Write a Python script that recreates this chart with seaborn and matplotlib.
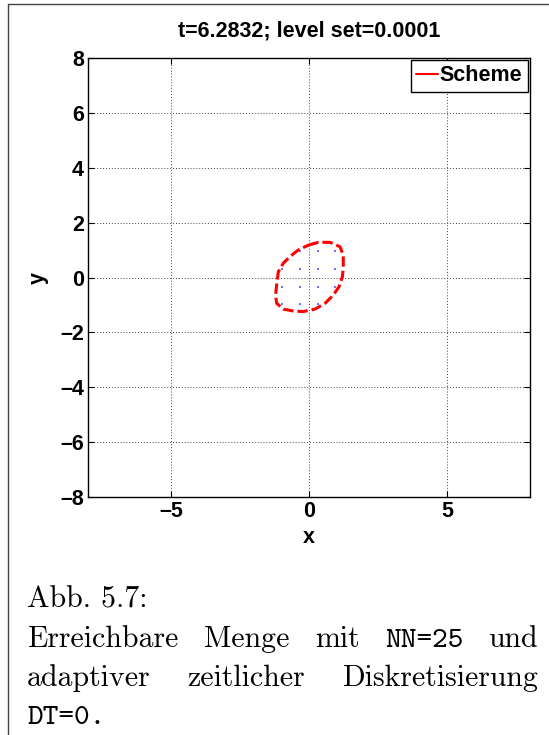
import matplotlib
matplotlib.use("Agg")
import matplotlib.pyplot as plt
from matplotlib.lines import Line2D
import numpy as np
import pandas as pd
import seaborn as sns

# ---- data -------------------------------------------------------------
# closed level-set contour of the reachable set (x, y)
contour_x = [-0.02, 0.34, 0.76, 1.12, 1.24, 1.24, 1.21, 1.09, 0.88, 0.58,
             0.22, -0.21, -0.57, -0.93, -1.17, -1.21, -1.17, -1.11, -0.93,
             -0.69, -0.39, -0.02]
contour_y = [1.18, 1.28, 1.28, 1.12, 0.82, 0.39, 0.03, -0.33, -0.64, -0.94,
             -1.15, -1.24, -1.22, -1.15, -0.94, -0.64, -0.27, 0.21, 0.52,
             0.76, 1.00, 1.18]

# grid points lying inside the set
point_x = [-0.33, 0.31, 0.95,
           -0.97, -0.33, 0.31, 0.95,
           -0.97, -0.33, 0.31, 0.95,
           -0.97, -0.33, 0.31]
point_y = [0.96, 0.96, 0.96,
           0.32, 0.32, 0.32, 0.32,
           -0.33, -0.33, -0.33, -0.33,
           -0.97, -0.97, -0.97]

x_ticks = [-5, 0, 5]
y_ticks = [-8, -6, -4, -2, 0, 2, 4, 6, 8]
title_text = "t=6.2832; level set=0.0001"
legend_label = "Scheme"

caption_lines = [
    [("Abb. 5.7:", "cmr10")],
    [("Erreichbare", "cmr10"), ("Menge", "cmr10"), ("mit", "cmr10"),
     ("NN=25", "cmtt10"), ("und", "cmr10")],
    [("adaptiver", "cmr10"), ("zeitlicher", "cmr10"),
     ("Diskretisierung", "cmr10")],
    [("DT=0.", "cmtt10")],
]

# ---- style ------------------------------------------------------------
sns.set_theme(style="white")
plt.rcParams["font.family"] = ["Liberation Sans", "DejaVu Sans"]
plt.rcParams["font.weight"] = "bold"
plt.rcParams["axes.unicode_minus"] = True
plt.rcParams["text.color"] = "black"
plt.rcParams["axes.labelcolor"] = "black"
plt.rcParams["xtick.color"] = "black"
plt.rcParams["ytick.color"] = "black"

W, H = 549, 735
fig = plt.figure(figsize=(W / 100, H / 100), dpi=100)
ax = fig.add_axes([88 / W, 1 - 497.3 / H, 442 / W, 439.6 / H])

df_c = pd.DataFrame({"x": contour_x, "y": contour_y, "s": legend_label})
df_p = pd.DataFrame({"x": point_x, "y": point_y})

sns.scatterplot(data=df_p, x="x", y="y", ax=ax, color="#6f6fff", s=4,
                marker="s", linewidth=0, legend=False, zorder=2)
sns.lineplot(data=df_c, x="x", y="y", ax=ax, sort=False, estimator=None,
             color="#ff0000", linewidth=2.2, legend=False, zorder=3)
ax.lines[-1].set_dashes((3.4, 1.3))

ax.set_xlim(-8, 8)
ax.set_ylim(-8, 8)
ax.set_xticks(x_ticks)
ax.set_yticks(y_ticks)
ax.set_xticklabels([f"{v}".replace("-", "\u2013") for v in x_ticks])
ax.set_yticklabels([f"{v}".replace("-", "\u2013") for v in y_ticks])
ax.grid(True, color="#444444", linestyle=(0, (1, 2)), linewidth=0.7)
ax.tick_params(axis="both", labelsize=15.5, length=4, direction="in",
               width=0.8, pad=3, top=True, right=True, bottom=True, left=True,
               colors="black")
for lab in ax.get_xticklabels() + ax.get_yticklabels():
    lab.set_fontweight("bold")
for sp in ax.spines.values():
    sp.set_color("black")
    sp.set_linewidth(1.0)

ax.set_xlabel("x", fontsize=15.5, fontweight="bold", labelpad=3,
              color="black")
ax.set_ylabel("y", fontsize=15.5, fontweight="bold", labelpad=8,
              color="black")
ax.set_title(title_text, fontsize=15.5, fontweight="bold", pad=15,
             color="black")

handle = Line2D([], [], color="#ff0000", linewidth=1.5)
leg = ax.legend([handle], [legend_label], loc="upper right",
                prop={"size": 15.5, "weight": "bold"}, fancybox=False,
                framealpha=1, edgecolor="black", borderpad=0.25,
                handlelength=1.0, handletextpad=0.1, borderaxespad=0.1)
leg.get_frame().set_linewidth(1.0)
for t in leg.get_texts():
    t.set_color("black")

# outer frame on the left and top of the figure
fig.add_artist(Line2D([7.5 / W, 7.5 / W], [0, 1 - 3.5 / H],
                      transform=fig.transFigure, color="#444444", lw=1.0))
fig.add_artist(Line2D([7.5 / W, 1], [1 - 3.5 / H, 1 - 3.5 / H],
                      transform=fig.transFigure, color="#444444", lw=1.0))

# ---- caption, justified between left and right margins -----------------
x_left, x_right = 27.0, 538.0
baselines = [607, 647, 686, 724]
cap_size = 21.5
renderer = fig.canvas.get_renderer()
for words, base in zip(caption_lines, baselines):
    texts = []
    for w, fam in words:
        t = fig.text(0, 1 - base / H, w, fontsize=cap_size, family=fam,
                     fontweight="normal", va="baseline", ha="left",
                     color="black")
        texts.append(t)
    widths = [t.get_window_extent(renderer).width for t in texts]
    if len(texts) > 1:
        gap = (x_right - x_left - sum(widths)) / (len(texts) - 1)
    else:
        gap = 0
    xpos = x_left
    for t, w in zip(texts, widths):
        t.set_x(xpos / W)
        xpos += w + gap

fig.savefig("out.png", dpi=100)
